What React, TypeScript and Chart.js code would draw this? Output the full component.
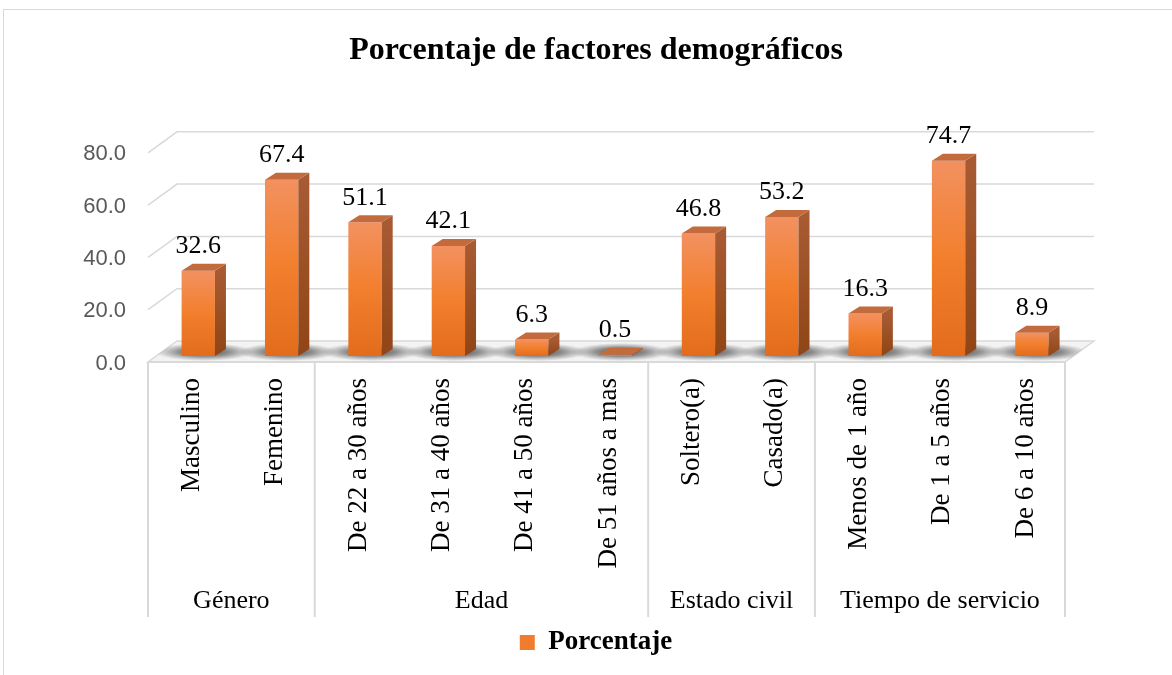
import React, { useEffect, useRef } from "react";
import { Chart, registerables } from "chart.js";

Chart.register(...registerables);

const titleText = "Porcentaje de factores demográficos";
const seriesLabel = "Porcentaje";
const categories = [
  "Masculino",
  "Femenino",
  "De 22 a 30 años",
  "De 31 a 40 años",
  "De 41 a 50 años",
  "De 51 años a mas",
  "Soltero(a)",
  "Casado(a)",
  "Menos de 1 año",
  "De 1 a 5 años",
  "De 6 a 10 años",
];
const values = [32.6, 67.4, 51.1, 42.1, 6.3, 0.5, 46.8, 53.2, 16.3, 74.7, 8.9];
const groupLabels = ["Género", "Edad", "Estado civil", "Tiempo de servicio"];
const groupSizes = [2, 4, 2, 3];
const yTickValues = [0, 20, 40, 60, 80];

const SERIF = '"Liberation Serif", "Times New Roman", serif';
const SANS = '"Liberation Sans", Arial, sans-serif';
const ORANGE = "#F07D2E";
const GRID = "#D9D9D9";

// 3D offsets (pixels)
const FRONT_DX = -8.6;
const FRONT_DY = 6;
const BACK_DX = 20.4;
const BACK_DY = -15;
const BAR_DX = 11;
const BAR_DY = -7;
const BOX_BOTTOM = 617;
const GROUP_BASELINE = 608;

const threeD = {
  id: "threeD",
  beforeDatasetsDraw(chart: any) {
    const { ctx, scales } = chart;
    const x = scales.x;
    const y = scales.y;
    const fl = x.left + FRONT_DX;
    const fr = x.right + FRONT_DX;
    const bl = x.left + BACK_DX;
    const br = x.right + BACK_DX;
    ctx.save();
    ctx.strokeStyle = GRID;
    ctx.lineWidth = 1.5;
    y.ticks.forEach((t: any) => {
      if (t.value === 0) return;
      const py = y.getPixelForValue(t.value);
      ctx.beginPath();
      ctx.moveTo(fl, py + FRONT_DY);
      ctx.lineTo(bl, py + BACK_DY);
      ctx.lineTo(br, py + BACK_DY);
      ctx.stroke();
    });
    const p0 = y.getPixelForValue(0);
    ctx.beginPath();
    ctx.moveTo(fl, p0 + FRONT_DY);
    ctx.lineTo(fr, p0 + FRONT_DY);
    ctx.lineTo(br, p0 + BACK_DY);
    ctx.lineTo(bl, p0 + BACK_DY);
    ctx.closePath();
    ctx.fillStyle = "#F3F3F3";
    ctx.fill();
    ctx.stroke();
    // shadows
    ctx.save();
    ctx.clip();
    const meta = chart.getDatasetMeta(0);
    meta.data.forEach((bar: any) => {
      const cx = bar.x + 6;
      const cy = p0 - 4;
      const rx = 50;
      const ry = 9;
      ctx.save();
      ctx.translate(cx, cy);
      ctx.scale(1, ry / rx);
      const g = ctx.createRadialGradient(0, 0, 0, 0, 0, rx);
      g.addColorStop(0, "rgba(40,40,40,0.85)");
      g.addColorStop(0.5, "rgba(60,60,60,0.55)");
      g.addColorStop(1, "rgba(80,80,80,0)");
      ctx.fillStyle = g;
      ctx.beginPath();
      ctx.arc(0, 0, rx, 0, Math.PI * 2);
      ctx.fill();
      ctx.restore();
    });
    ctx.restore();
    ctx.restore();
  },
  afterDatasetsDraw(chart: any) {
    const { ctx } = chart;
    const meta = chart.getDatasetMeta(0);
    ctx.save();
    meta.data.forEach((bar: any, i: number) => {
      const half = bar.width / 2;
      const left = bar.x - half;
      const right = bar.x + half;
      const top = bar.y;
      const bottom = bar.base;
      // side face
      const sg = ctx.createLinearGradient(0, top, 0, bottom);
      sg.addColorStop(0, "#A85B33");
      sg.addColorStop(1, "#8F4515");
      ctx.fillStyle = sg;
      ctx.beginPath();
      ctx.moveTo(right, top);
      ctx.lineTo(right + BAR_DX, top + BAR_DY);
      ctx.lineTo(right + BAR_DX, bottom + BAR_DY);
      ctx.lineTo(right, bottom);
      ctx.closePath();
      ctx.fill();
      // top face
      ctx.fillStyle = "#C36B3D";
      ctx.beginPath();
      ctx.moveTo(left, top);
      ctx.lineTo(left + BAR_DX, top + BAR_DY);
      ctx.lineTo(right + BAR_DX, top + BAR_DY);
      ctx.lineTo(right, top);
      ctx.closePath();
      ctx.fill();
      // label
      ctx.fillStyle = "#000";
      ctx.font = `26px ${SERIF}`;
      ctx.textAlign = "center";
      ctx.textBaseline = "alphabetic";
      ctx.fillText(values[i].toFixed(1), bar.x, top - 17.5);
    });
    ctx.restore();
  },
  afterDraw(chart: any) {
    const { ctx, scales } = chart;
    const x = scales.x;
    const y = scales.y;
    const p0 = y.getPixelForValue(0) + FRONT_DY;
    const fl = x.left + FRONT_DX;
    const fr = x.right + FRONT_DX;
    ctx.save();
    ctx.strokeStyle = GRID;
    ctx.lineWidth = 2;
    ctx.beginPath();
    ctx.moveTo(fl, p0);
    ctx.lineTo(fr, p0);
    ctx.stroke();
    let start = 0;
    const bx = (idx: number) => x.getPixelForValue(idx - 0.5) + FRONT_DX;
    ctx.beginPath();
    ctx.moveTo(bx(0), p0);
    ctx.lineTo(bx(0), BOX_BOTTOM);
    ctx.stroke();
    ctx.fillStyle = "#000";
    ctx.font = `26px ${SERIF}`;
    ctx.textAlign = "center";
    ctx.textBaseline = "alphabetic";
    groupSizes.forEach((size, gi) => {
      const end = start + size;
      const xl = bx(start);
      const xr = bx(end);
      ctx.beginPath();
      ctx.moveTo(xr, p0);
      ctx.lineTo(xr, BOX_BOTTOM);
      ctx.stroke();
      ctx.fillText(groupLabels[gi], (xl + xr) / 2, GROUP_BASELINE);
      start = end;
    });
    ctx.restore();
  },
};

export default function App() {
  const canvasRef = useRef<HTMLCanvasElement | null>(null);

  useEffect(() => {
    const canvas = canvasRef.current;
    if (!canvas) return;
    const chart = new Chart(canvas, {
      type: "bar",
      data: {
        labels: categories,
        datasets: [
          {
            label: seriesLabel,
            data: values,
            categoryPercentage: 1,
            barPercentage: 0.4,
            borderWidth: 0,
            backgroundColor: (c: any) => {
              if (c.type !== "data") return ORANGE;
              const ch = c.chart;
              const ys = ch.scales && ch.scales.y;
              if (!ys) return ORANGE;
              const top = ys.getPixelForValue(c.raw);
              const bot = ys.getPixelForValue(0);
              if (!isFinite(top) || !isFinite(bot) || bot - top < 1) return "#E8711F";
              const g = ch.ctx.createLinearGradient(0, top, 0, bot);
              g.addColorStop(0, "#F29160");
              g.addColorStop(0.5, "#F27F2D");
              g.addColorStop(1, "#E26C1C");
              return g;
            },
          } as any,
        ],
      },
      options: {
        animation: false,
        responsive: true,
        maintainAspectRatio: false,
        layout: { padding: { left: 20, right: 0, top: 0, bottom: 9 } },
        plugins: {
          title: {
            display: true,
            text: titleText,
            color: "#000",
            font: { family: SERIF, size: 32, weight: "bold" },
            padding: { top: 31.8, bottom: 76.6 },
          },
          legend: {
            display: true,
            position: "bottom",
            labels: {
              boxWidth: 15,
              boxHeight: 15,
              padding: 10,
              color: "#000",
              font: { family: SERIF, size: 27, weight: "bold" },
              generateLabels: (ch: any) =>
                ch.data.datasets.map((ds: any, i: number) => ({
                  text: ds.label,
                  fillStyle: ORANGE,
                  strokeStyle: ORANGE,
                  lineWidth: 0,
                  hidden: false,
                  datasetIndex: i,
                })),
            },
          },
          tooltip: { enabled: false },
        },
        scales: {
          x: {
            type: "category",
            grid: { display: false, drawTicks: false },
            border: { display: false },
            ticks: {
              autoSkip: false,
              maxRotation: 90,
              minRotation: 90,
              padding: 22,
              labelOffset: -6.5,
              color: "#000",
              font: { family: SERIF, size: 27 },
            },
            afterFit: (s: any) => {
              s.height = 263;
            },
          },
          y: {
            min: 0,
            max: 80,
            afterBuildTicks: (s: any) => {
              s.ticks = yTickValues.map((v) => ({ value: v }));
            },
            grid: { display: false, drawTicks: false },
            border: { display: false },
            ticks: {
              padding: 30.6,
              labelOffset: 7.5,
              color: "#595959",
              font: { family: SANS, size: 22 },
              callback: (v: any) => Number(v).toFixed(1),
            },
            afterFit: (s: any) => {
              s.width = 136.6;
            },
          },
          yR: {
            position: "right",
            display: true,
            grid: { display: false, drawTicks: false },
            border: { display: false },
            ticks: { display: false },
            afterFit: (s: any) => {
              s.width = 98.4;
            },
          },
        },
      },
      plugins: [threeD],
    });
    return () => chart.destroy();
  }, []);

  return (
    <div
      style={{
        position: "fixed",
        left: 0,
        top: 0,
        width: 1172,
        height: 675,
        overflow: "hidden",
        background: "#fff",
      }}
    >
      <div
        style={{
          position: "absolute",
          left: 3,
          top: 9,
          width: 1300,
          height: 800,
          borderTop: "1.5px solid #D9D9D9",
          borderLeft: "1.5px solid #D9D9D9",
          boxSizing: "border-box",
        }}
      />
      <div style={{ position: "absolute", left: 0, top: 0, width: 1172, height: 675 }}>
        <canvas ref={canvasRef} />
      </div>
    </div>
  );
}
